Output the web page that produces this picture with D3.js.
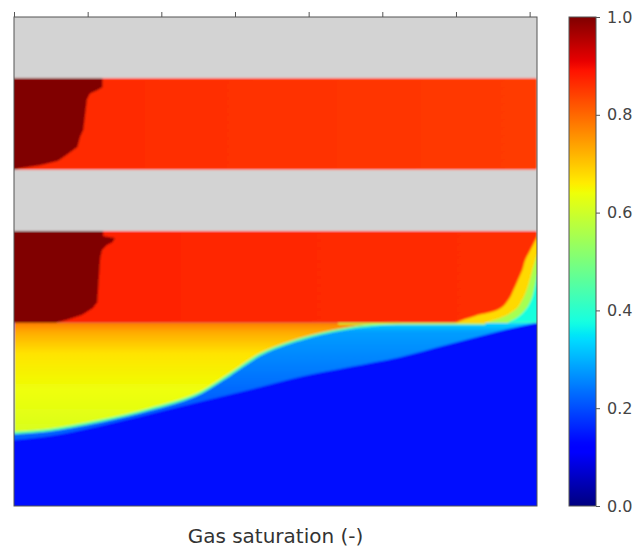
<!DOCTYPE html>
<html>
<head>
<meta charset="utf-8">
<script src="https://cdn.jsdelivr.net/npm/d3@7"></script>
<style>
  body { margin: 0; background: #fff; }
  text { font-family: "DejaVu Sans", sans-serif; }
</style>
</head>
<body>
<div id="chart"></div>
<script>
// grid size (cells)
const nx = 71, ny = 160;

// top axis ticks and colorbar ticks
const xTicks = [0, 10, 20, 30, 40, 50, 60, 70];
const cbTicks = [0, 0.2, 0.4, 0.6, 0.8, 1.0];

// inactive (gray) layers, depth in rows
const grayTop = [0, 50];
const grayBottom = [20, 70];

// gas-filled layers, saturation west / east
const layerTop = [20, 70];
const layerBottom = [50, 100];
const layerSgWest = [0.868, 0.876];
const layerSgEast = [0.848, 0.86];

// fully saturated front near the injector
const frontSg = 1.0;
const front1Depth = [20, 23, 24, 25, 27, 37, 39, 42.5, 45, 47, 48.5, 49.5, 50];
const front1X     = [12, 12, 11.3, 10.3, 9.9, 9.4, 9.0, 8.6, 7.2, 6.0, 3.5, 0.8, 0];
const front2Depth = [70, 71.7, 72.3, 73.6, 74.6, 76.2, 78.9, 93.3, 95.2, 97.5, 99.1, 100];
const front2X     = [12.1, 12.1, 13.7, 13.4, 12.6, 11.95, 11.7, 11.3, 10.7, 9.2, 7.2, 5.6];

// lower aquifer: background, mixing zone and plume
const baseSg = 0.14;
const mixX     = [0, 4.9, 11.7, 18.5, 25.3, 32.0, 38.8, 45.6, 52.4, 59.2, 66.0, 71];
const mixDepth = [138.4, 137.1, 133.8, 129.9, 125.9, 122.0, 117.8, 114.5, 111.3, 107.0, 102.7, 100];
const mixStopDepth = [100, 103, 125];
const mixStopSg = [0.34, 0.28, 0.22];

const plumeX     = [0, 4.9, 11.7, 18.5, 25.3, 29.3, 33.4, 38.8, 45.6, 52.4];
const plumeDepth = [136.1, 135.1, 132.2, 128.3, 123.0, 117.0, 110.5, 105.5, 101.8, 100];
const plumeStopDepth = [100, 103, 110, 122, 138];
const plumeStopSg = [0.78, 0.73, 0.67, 0.64, 0.61];

// east edge of the lower gas layer: contours (depth, x)
const edgeSg = [0.68, 0.55, 0.38];
const edgeDepth = [
  [72, 76.2, 79.5, 82.8, 86.1, 89.3, 92.6, 95.9, 97.8, 100],
  [77.9, 82.8, 89.3, 92.6, 95.9, 98.5, 100],
  [84.4, 89.3, 92.6, 95.9, 98.5, 100]
];
const edgeX = [
  [71, 70.1, 69.4, 69.0, 68.4, 67.8, 67.1, 65.6, 62.6, 59.9],
  [71, 70.4, 69.6, 69.0, 68.0, 66.0, 64.0],
  [71, 70.6, 70.2, 69.4, 68.2, 67.0]
];

// jet colormap (matplotlib segment data)
const jr = d3.scaleLinear().domain([0, 0.35, 0.66, 0.89, 1]).range([0, 0, 1, 1, 0.5]).clamp(true);
const jg = d3.scaleLinear().domain([0, 0.125, 0.375, 0.64, 0.91, 1]).range([0, 0, 1, 1, 0, 0]).clamp(true);
const jb = d3.scaleLinear().domain([0, 0.11, 0.34, 0.65, 1]).range([0.5, 1, 1, 0, 0]).clamp(true);
function jet(v) {
  return d3.rgb(jr(v) * 255, jg(v) * 255, jb(v) * 255).formatHex();
}

const width = 639, height = 550;
const svg = d3.select("#chart").append("svg")
  .attr("width", width).attr("height", height);

let x = d3.scaleLinear().domain([0, nx]).range([14, 537]);
let y = d3.scaleLinear().domain([0, ny]).range([17, 506]);

const defs = svg.append("defs");
defs.append("clipPath").attr("id", "plotClip")
  .append("rect")
  .attr("x", x(0)).attr("y", y(0))
  .attr("width", x(nx) - x(0)).attr("height", y(ny) - y(0));
defs.append("filter").attr("id", "soft")
  .attr("x", "-5%").attr("y", "-5%").attr("width", "110%").attr("height", "110%")
  .append("feGaussianBlur").attr("stdDeviation", 1.1);

const field = svg.append("g").attr("clip-path", "url(#plotClip)")
  .append("g").attr("filter", "url(#soft)");

// lower region background (drawn a bit past the frame so the blur stays inside)
field.append("rect")
  .attr("x", x(0) - 6).attr("y", y(100))
  .attr("width", x(nx) - x(0) + 12).attr("height", y(ny) - y(100) + 6)
  .attr("fill", jet(baseSg));

// mixing zone (light blue)
let mixGrad = defs.append("linearGradient").attr("id", "mixGrad")
  .attr("gradientUnits", "userSpaceOnUse")
  .attr("x1", 0).attr("x2", 0).attr("y1", y(mixStopDepth[0])).attr("y2", y(mixStopDepth[mixStopDepth.length - 1]));
mixStopSg.forEach(function(v, i) {
  let off = (mixStopDepth[i] - mixStopDepth[0]) / (mixStopDepth[mixStopDepth.length - 1] - mixStopDepth[0]);
  mixGrad.append("stop").attr("offset", off).attr("stop-color", jet(v));
});
field.append("path")
  .datum(d3.zip(mixX, mixDepth))
  .attr("d", d3.area().curve(d3.curveMonotoneX).x(d => x(d[0])).y0(y(100)).y1(d => y(d[1])))
  .attr("fill", "url(#mixGrad)");

// plume (yellow / orange)
let plumeGrad = defs.append("linearGradient").attr("id", "plumeGrad")
  .attr("gradientUnits", "userSpaceOnUse")
  .attr("x1", 0).attr("x2", 0).attr("y1", y(plumeStopDepth[0])).attr("y2", y(plumeStopDepth[plumeStopDepth.length - 1]));
plumeStopSg.forEach(function(v, i) {
  let off = (plumeStopDepth[i] - plumeStopDepth[0]) / (plumeStopDepth[plumeStopDepth.length - 1] - plumeStopDepth[0]);
  plumeGrad.append("stop").attr("offset", off).attr("stop-color", jet(v));
});
field.append("path")
  .datum(d3.zip(plumeX, plumeDepth))
  .attr("d", d3.area().curve(d3.curveMonotoneX).x(d => x(d[0])).y0(y(100)).y1(d => y(d[1])))
  .attr("fill", "url(#plumeGrad)");

// thin transition along plume edge
field.append("path")
  .datum(d3.zip(plumeX, plumeDepth))
  .attr("d", d3.line().curve(d3.curveMonotoneX).x(d => x(d[0])).y(d => y(d[1])))
  .attr("fill", "none")
  .attr("stroke", jet(0.45))
  .attr("stroke-width", 2.5);
field.append("line")
  .attr("x1", x(44)).attr("x2", x(64))
  .attr("y1", y(100) + 1).attr("y2", y(100) + 1)
  .attr("stroke", jet(0.6)).attr("stroke-width", 1.5);

// gas layers
layerTop.forEach(function(t, i) {
  let g = defs.append("linearGradient").attr("id", "layer" + i)
    .attr("gradientUnits", "userSpaceOnUse")
    .attr("x1", x(0)).attr("x2", x(nx)).attr("y1", 0).attr("y2", 0);
  g.append("stop").attr("offset", 0).attr("stop-color", jet(layerSgWest[i]));
  g.append("stop").attr("offset", 1).attr("stop-color", jet(layerSgEast[i]));
  field.append("rect")
    .attr("x", x(0) - 6).attr("y", y(t))
    .attr("width", x(nx) - x(0) + 6).attr("height", y(layerBottom[i]) - y(t))
    .attr("fill", "url(#layer" + i + ")");
});

// saturated fronts
const frontArea = d3.area().y(d => y(d[0])).x0(x(0) - 6).x1(d => x(d[1]));
[[front1Depth, front1X], [front2Depth, front2X]].forEach(function(f) {
  field.append("path")
    .datum(d3.zip(f[0], f[1]))
    .attr("d", frontArea)
    .attr("fill", jet(frontSg));
});

// east edge contours
const edgeArea = d3.area().curve(d3.curveMonotoneY).y(d => y(d[0])).x0(d => x(d[1])).x1(x(nx) + 6);
edgeSg.forEach(function(v, i) {
  field.append("path")
    .datum(d3.zip(edgeDepth[i], edgeX[i]))
    .attr("d", edgeArea)
    .attr("fill", jet(v));
});

// inactive layers
grayTop.forEach(function(t, i) {
  field.append("rect")
    .attr("x", x(0) - 6).attr("y", y(t) - (t === 0 ? 6 : 0))
    .attr("width", x(nx) - x(0) + 12).attr("height", y(grayBottom[i]) - y(t) + (t === 0 ? 6 : 0))
    .attr("fill", "#d3d3d3");
});

// frame
svg.append("rect")
  .attr("x", x(0)).attr("y", y(0))
  .attr("width", x(nx) - x(0)).attr("height", y(ny) - y(0))
  .attr("fill", "none").attr("stroke", "#555").attr("stroke-width", 1);

// top ticks (no labels)
svg.append("g")
  .attr("transform", `translate(0,${y(0)})`)
  .call(d3.axisTop(x).tickValues(xTicks).tickSize(5).tickFormat(""))
  .call(g => g.select(".domain").remove())
  .selectAll("line").attr("stroke", "#555");

// x label
svg.append("text")
  .attr("x", (x(0) + x(nx)) / 2)
  .attr("y", 543)
  .attr("text-anchor", "middle")
  .style("font-size", "20px")
  .attr("fill", "#333")
  .text("Gas saturation (-)");

// colorbar
let cbY = d3.scaleLinear().domain([0, 1]).range([506, 17]);
let cbGrad = defs.append("linearGradient").attr("id", "cbGrad")
  .attr("x1", 0).attr("x2", 0).attr("y1", 1).attr("y2", 0);
d3.range(0, 1.0001, 0.01).forEach(function(v) {
  cbGrad.append("stop").attr("offset", v).attr("stop-color", jet(v));
});
svg.append("rect")
  .attr("x", 569).attr("y", cbY(1))
  .attr("width", 27).attr("height", cbY(0) - cbY(1))
  .attr("fill", "url(#cbGrad)")
  .attr("stroke", "#555").attr("stroke-width", 1);

let cbAxis = svg.append("g")
  .attr("transform", "translate(596,0)")
  .call(d3.axisRight(cbY).tickValues(cbTicks).tickSize(4).tickPadding(7).tickFormat(d3.format(".1f")));
cbAxis.select(".domain").remove();
cbAxis.selectAll("line").attr("stroke", "#555");
cbAxis.selectAll("text")
  .attr("fill", "#444")
  .style("font-size", "16px")
  .style("font-family", "'DejaVu Sans', sans-serif");
</script>
</body>
</html>
